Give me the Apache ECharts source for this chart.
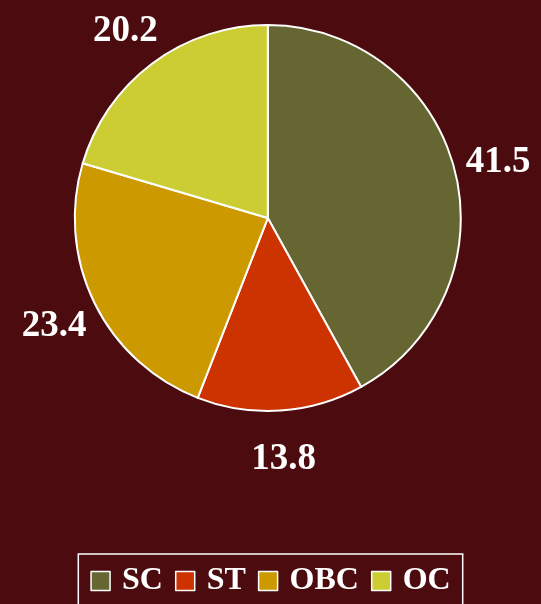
<!DOCTYPE html>
<html>
<head>
<meta charset="utf-8">
<script src="https://cdn.jsdelivr.net/npm/echarts@6/dist/echarts.min.js"></script>
<style>
  html, body { margin: 0; padding: 0; background: #4c0c0f; }
  #main { width: 541px; height: 604px; }
</style>
</head>
<body>
<div id="main"></div>
<script>
var categories = ['SC', 'ST', 'OBC', 'OC'];
var values = [41.5, 13.8, 23.4, 20.2];
var sliceColors = ['#666633', '#cc3300', '#cc9900', '#cccc33'];

var font = 'Liberation Serif';
var pieData = categories.map(function (name, i) {
    return { name: name, value: values[i], itemStyle: { color: sliceColors[i] } };
});

var chart = echarts.init(document.getElementById('main'));
chart.setOption({
    backgroundColor: '#4c0c0f',
    animation: false,
    legend: {
        data: categories,
        left: 'center',
        top: 554,
        padding: [11, 12],
        borderColor: '#ffffff',
        borderWidth: 1.5,
        itemWidth: 19,
        itemHeight: 19,
        itemGap: 12,
        icon: 'rect',
        itemStyle: { borderColor: '#ffffff', borderWidth: 1.5 },
        textStyle: {
            color: '#ffffff',
            fontFamily: font,
            fontWeight: 'bold',
            fontSize: 32,
            padding: [0, 0, 0, 7]
        }
    },
    series: [
        {
            type: 'pie',
            center: ['49.5%', '36.1%'],
            radius: 193,
            startAngle: 90,
            clockwise: true,
            avoidLabelOverlap: false,
            itemStyle: { borderColor: '#ffffff', borderWidth: 2 },
            label: {
                show: true,
                position: 'outside',
                distanceToLabelLine: 0,
                color: '#ffffff',
                fontFamily: font,
                fontWeight: 'bold',
                fontSize: 37,
                formatter: function (p) { return p.value.toFixed(1); }
            },
            labelLine: { show: false, length: 45, length2: 0 },
            labelLayout: function () {
                // digits sit high in their box; nudge to visual centre
                return { align: 'center', dy: 4 };
            },
            emphasis: { disabled: true },
            data: pieData
        }
    ]
});
</script>
</body>
</html>
